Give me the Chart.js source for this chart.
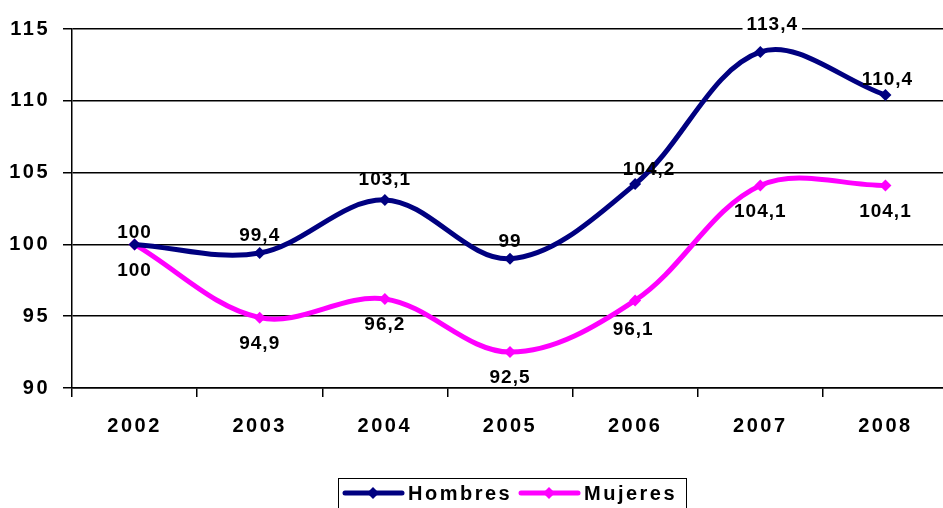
<!DOCTYPE html>
<html>
<head>
<meta charset="utf-8">
<script src="https://cdn.jsdelivr.net/npm/chart.js@4/dist/chart.umd.min.js"></script>
<style>
html,body{margin:0;padding:0;background:#fff;overflow:hidden;}
#wrap{width:943px;height:508px;overflow:hidden;}
</style>
</head>
<body>
<div id="wrap"><canvas id="c" width="954" height="508"></canvas></div>
<script>
const categories = ['2002','2003','2004','2005','2006','2007','2008'];
const hombres = [100, 99.4, 103.1, 99, 104.2, 113.4, 110.4];
const mujeres = [100, 94.9, 96.2, 92.5, 96.1, 104.1, 104.1];
const yTicks = [90, 95, 100, 105, 110, 115];
const seriesNames = ['Hombres', 'Mujeres'];
const seriesColors = ['#000080', '#FF00FF'];

const FONT = "'Liberation Sans', Arial, sans-serif";

function fmt(v){ return String(v).replace('.', ','); }

const spacingPlugin = {
  id: 'spacing',
  beforeUpdate(chart){ chart.ctx.letterSpacing = '2.5px'; },
  beforeDraw(chart){ chart.ctx.letterSpacing = '2.5px'; }
};

const labelPlugin = {
  id: 'labels',
  afterDatasetsDraw(chart){
    const ctx = chart.ctx;
    ctx.save();
    ctx.letterSpacing = '1px';
    ctx.font = 'bold 19px ' + FONT;
    ctx.textAlign = 'center';
    ctx.textBaseline = 'middle';
    ctx.fillStyle = '#000';
    chart.data.datasets.forEach((ds, di) => {
      const meta = chart.getDatasetMeta(di);
      meta.data.forEach((pt, i) => {
        const txt = fmt(ds.data[i]);
        let x = pt.x, y = pt.y;
        if (di === 0) {
          y -= 17;
          if (i === 5) { y = pt.y - 27; x += 12; }
          if (i === 4) { x += 14; y = pt.y - 14; }
          if (i === 2) { y = pt.y - 20; }
          if (i === 0) { y = pt.y - 12; }
          if (i === 6) { y = pt.y - 15; x += 2; }
        } else {
          y += 26;
          if (i === 4) { x -= 2; y = pt.y + 29; }
        }
        if (di === 0 && i === 5) {
          const w = ctx.measureText(txt).width;
          ctx.fillStyle = '#fff';
          ctx.fillRect(x - w/2 - 4, y - 10, w + 8, 20);
          ctx.fillStyle = '#000';
        }
        ctx.fillText(txt, x, y);
      });
    });
    ctx.restore();
  }
};

const legendPlugin = {
  id: 'customLegend',
  afterDraw(chart){
    const ctx = chart.ctx;
    ctx.save();
    ctx.strokeStyle = '#000';
    ctx.lineWidth = 1;
    ctx.strokeRect(338.5, 478.5, 348, 40);
    const items = [{x:345, tx:408}, {x:521, tx:584}];
    const cy = 493;
    ctx.font = 'bold 20px ' + FONT;
    ctx.letterSpacing = '2.5px';
    ctx.textBaseline = 'middle';
    ctx.textAlign = 'left';
    chart.data.datasets.forEach((ds, i) => {
      const it = items[i];
      ctx.strokeStyle = ds.borderColor;
      ctx.lineWidth = 5;
      ctx.lineCap = 'round';
      ctx.beginPath();
      ctx.moveTo(it.x, cy); ctx.lineTo(it.x + 57, cy); ctx.stroke();
      ctx.fillStyle = ds.borderColor;
      const mx = it.x + 28;
      ctx.beginPath();
      ctx.moveTo(mx, cy - 6); ctx.lineTo(mx + 6, cy); ctx.lineTo(mx, cy + 6); ctx.lineTo(mx - 6, cy); ctx.closePath(); ctx.fill();
      ctx.fillStyle = '#000';
      ctx.fillText(ds.label, it.tx, cy + 1);
    });
    ctx.restore();
  }
};

new Chart(document.getElementById('c'), {
  type: 'line',
  data: {
    labels: categories,
    datasets: [
      { label: seriesNames[0], data: hombres, borderColor: seriesColors[0], backgroundColor: seriesColors[0],
        borderWidth: 5, tension: 0.35, pointStyle: 'rectRot', pointRadius: 6, pointBorderWidth: 0, fill: false },
      { label: seriesNames[1], data: mujeres, borderColor: seriesColors[1], backgroundColor: seriesColors[1],
        borderWidth: 5, tension: 0.35, pointStyle: 'rectRot', pointRadius: 6, pointBorderWidth: 0, fill: false }
    ]
  },
  options: {
    responsive: false,
    animation: false,
    layout: { padding: { top: 29, right: 0, left: 0, bottom: 0 } },
    plugins: { legend: { display: false }, tooltip: { enabled: false } },
    scales: {
      x: {
        offset: true,
        grid: { offset: true, drawOnChartArea: false, drawTicks: true, tickLength: 9, color: '#000', lineWidth: 1.5 },
        border: { color: '#000', width: 1.5 },
        ticks: { color: '#000', font: { family: FONT, size: 20, weight: 'bold' }, padding: 17, maxRotation: 0 },
        afterFit(s){ s.height = 120; }
      },
      y: {
        min: 90, max: 115,
        afterBuildTicks(s){ s.ticks = yTicks.map(v => ({ value: v })); },
        grid: { color: '#000', lineWidth: 1.5, tickLength: 9 },
        border: { color: '#000', width: 1.5 },
        ticks: { color: '#000', font: { family: FONT, size: 20, weight: 'bold' }, padding: 13 },
        afterFit(s){ s.width = 72; }
      }
    }
  },
  plugins: [spacingPlugin, labelPlugin, legendPlugin]
});
</script>
</body>
</html>
